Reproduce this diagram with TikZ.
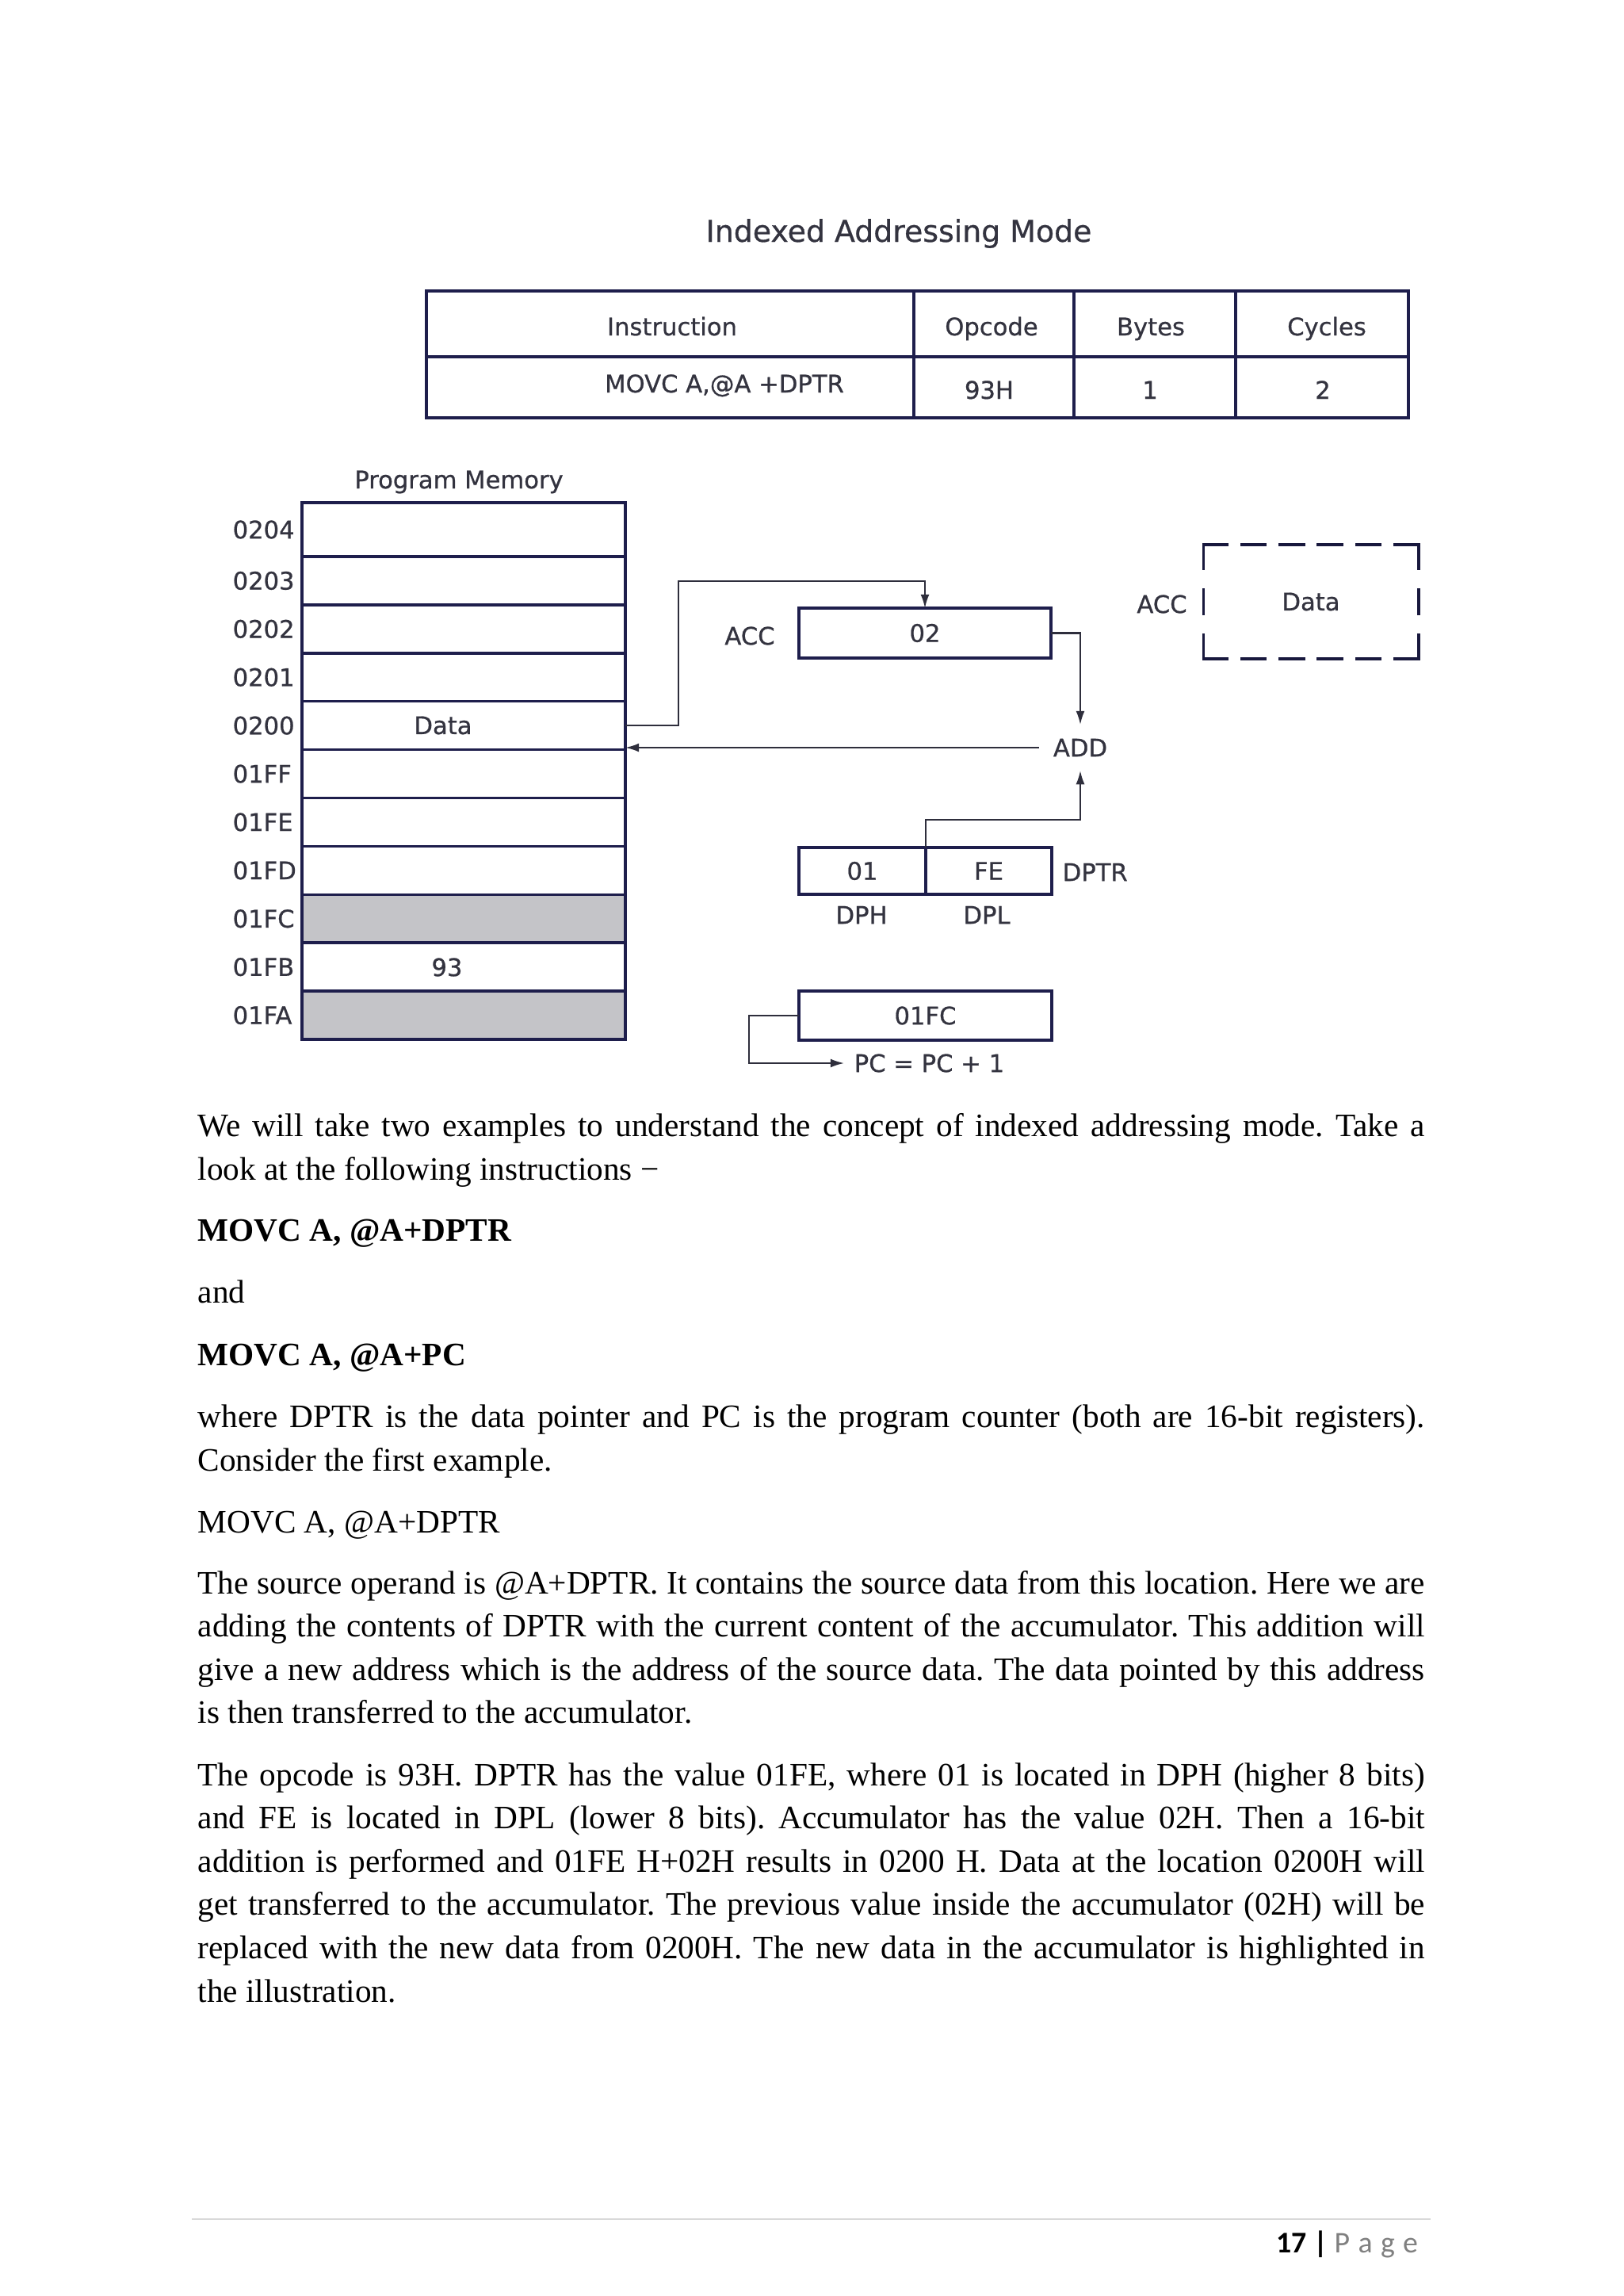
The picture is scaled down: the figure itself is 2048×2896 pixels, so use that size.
\documentclass[tikz,border=0pt]{standalone}
\usepackage{fontspec}
\setmainfont{Liberation Serif}
\newfontfamily\dvfont[FakeBold=0.7]{DejaVu Sans}
\newfontfamily\calfont{Carlito}
\usetikzlibrary{arrows.meta}
\definecolor{navy}{HTML}{1E1E4C}
\definecolor{ink}{HTML}{33333F}
\definecolor{wire}{HTML}{2E2E3C}
\definecolor{cellgray}{HTML}{C4C4C8}
\definecolor{pagegray}{HTML}{808080}
\definecolor{rulegray}{HTML}{D9D9D9}
\newlength\TW
\setlength\TW{450pt}
\newcommand\pxu{0.29066pt}
\frenchspacing
\begin{document}
\begin{tikzpicture}[x=0.29066pt,y=-0.29066pt,
  lbl/.style={font=\dvfont\fontsize{8.9}{10.5}\selectfont, text=ink, inner sep=0pt},
  cell/.style={draw=navy, line width=1pt, minimum width=408*\pxu, minimum height=60.9*\pxu, inner sep=0pt, outer sep=0pt},
  reg/.style={draw=navy, line width=1.15pt, inner sep=0pt, outer sep=0pt, font=\dvfont\fontsize{8.9}{10.5}\selectfont, text=ink},
  wire/.style={draw=wire, line width=0.6pt},
  arr/.style={wire, -{Latex[length=5pt,width=3.2pt]}},
  dashside/.style={draw=navy!80!black, line width=1.15pt, line cap=rect},
  body/.style={font=\fontsize{12}{14}\selectfont, inner sep=0pt, anchor=base west},
  addr/.style={lbl, anchor=west}]
\useasboundingbox[fill=white] (0,0) rectangle (2048,2896);

% ---------- title and table ----------
\node[lbl, font=\dvfont\fontsize{11}{13}\selectfont, anchor=base] (title) at (1134,305) {Indexed Addressing Mode};
\draw[navy, line width=1pt] (538,367) rectangle (1777,527);
\draw[navy, line width=1.3pt] (538,367) -- (1777,367);
\draw[navy, line width=1pt] (538,450) -- (1777,450);
\draw[navy, line width=1pt] (1153,367) -- (1153,527) (1355,367) -- (1355,527) (1559,367) -- (1559,527);
\node[lbl, anchor=base] (thIns) at (848,423) {Instruction};
\node[lbl, anchor=base] (thOp) at (1251,423) {Opcode};
\node[lbl, anchor=base] (thBy) at (1452,423) {Bytes};
\node[lbl, anchor=base] (thCy) at (1674,423) {Cycles};
\node[lbl, anchor=base] (tdIns) at (914,495) {MOVC A,@A +DPTR};
\node[lbl, anchor=base] (tdOp) at (1248,503) {93H};
\node[lbl, anchor=base] (tdBy) at (1451,503) {1};
\node[lbl, anchor=base] (tdCy) at (1669,503) {2};

% ---------- program memory ----------
\node[lbl, anchor=base] (pm) at (579,616) {Program Memory};
\node[cell, minimum height=68*\pxu] (r0204) at (585,668) {};
\node[cell] (r0203) at (585,732.45) {};
\node[cell] (r0202) at (585,793.35) {};
\node[cell] (r0201) at (585,854.25) {};
\node[cell] (r0200) at (585,915.15) {};
\node[cell] (r01FF) at (585,976.05) {};
\node[cell] (r01FE) at (585,1036.95) {};
\node[cell] (r01FD) at (585,1097.85) {};
\node[cell, fill=cellgray] (r01FC) at (585,1158.75) {};
\node[cell] (r01FB) at (585,1219.65) {};
\node[cell, fill=cellgray] (r01FA) at (585,1280.55) {};
\node[lbl] (memData) at (559,915) {Data};
\node[lbl] (mem93) at (564,1220) {93};
\node[addr] (a0204) at (293,668) {0204};
\node[addr] (a0203) at (293,732.45) {0203};
\node[addr] (a0202) at (293,793.35) {0202};
\node[addr] (a0201) at (293,854.25) {0201};
\node[addr] (a0200) at (293,915.15) {0200};
\node[addr] (a01FF) at (293,976.05) {01FF};
\node[addr] (a01FE) at (293,1036.95) {01FE};
\node[addr] (a01FD) at (293,1097.85) {01FD};
\node[addr] (a01FC) at (293,1158.75) {01FC};
\node[addr] (a01FB) at (293,1219.65) {01FB};
\node[addr] (a01FA) at (293,1280.55) {01FA};

% ---------- registers ----------
\node[reg, minimum width=318*\pxu, minimum height=63*\pxu] (acc) at (1167,798.5) {02};
\node[lbl] (accL) at (946,802) {ACC};
\node[lbl, inner sep=5pt] (add) at (1363,943) {ADD};
\node[reg, minimum width=160*\pxu, minimum height=59*\pxu] (dph) at (1088,1098.5) {01};
\node[reg, minimum width=159*\pxu, minimum height=59*\pxu] (dpl) at (1247.5,1098.5) {FE};
\node[lbl, anchor=west] (dptrL) at (1340,1100) {DPTR};
\node[lbl] (dphL) at (1087,1154) {DPH};
\node[lbl] (dplL) at (1245,1154) {DPL};
\node[reg, minimum width=319*\pxu, minimum height=62*\pxu] (pc) at (1167.5,1281) {01FC};
\node[lbl, anchor=west, inner xsep=3.5pt] (pcinc) at (1065,1341) {PC = PC + 1};
\node[reg, draw=none, minimum width=271*\pxu, minimum height=144*\pxu] (dacc) at (1654,759) {Data};
\draw[dashside, dash pattern=on 8.6pt off 5.44pt] (dacc.north west) -- (dacc.north east);
\draw[dashside, dash pattern=on 8.6pt off 5.44pt] (dacc.south east) -- (dacc.south west);
\draw[dashside, dash pattern=on 8.6pt off 8pt] (dacc.north east) -- (dacc.south east);
\draw[dashside, dash pattern=on 8.6pt off 8pt] (dacc.south west) -- (dacc.north west);
\node[lbl] (accR) at (1466,762) {ACC};

% ---------- connectors ----------
\draw[arr] (r0200.east) -- ++(67,0) -- ++(0,-182) -| (acc.north);
\draw[arr] (acc.east) -| (add.north);
\draw[arr] (add.west) -- (add.west -| r0200.east);
\draw[arr] (dph.north east) -- ++(0,-35) -| (add.south);
\draw[arr] (pc.west) -- ++(-63,0) |- (pcinc.west);

% ---------- body text ----------
\node[body] (t1) at (249,1433) {\makebox[\TW][s]{We will take two examples to understand the concept of indexed addressing mode. Take a}};
\node[body] (t2) at (249,1488) {look at the following instructions −};
\node[body] (t3) at (249,1565) {\textbf{MOVC A, @A+DPTR}};
\node[body] (t4) at (249,1643) {and};
\node[body] (t5) at (249,1722) {\textbf{MOVC A, @A+PC}};
\node[body] (t6) at (249,1800) {\makebox[\TW][s]{where DPTR is the data pointer and PC is the program counter (both are 16-bit registers).}};
\node[body] (t7) at (249,1855) {Consider the first example.};
\node[body] (t8) at (249,1933) {MOVC A, @A+DPTR};
\node[body] (t9) at (249,2010) {\makebox[\TW][s]{The source operand is @A+DPTR. It contains the source data from this location. Here we are}};
\node[body] (t10) at (249,2064.6) {\makebox[\TW][s]{adding the contents of DPTR with the current content of the accumulator. This addition will}};
\node[body] (t11) at (249,2119.2) {\makebox[\TW][s]{give a new address which is the address of the source data. The data pointed by this address}};
\node[body] (t12) at (249,2173.8) {is then transferred to the accumulator.};
\node[body] (t13) at (249,2252) {\makebox[\TW][s]{The opcode is 93H. DPTR has the value 01FE, where 01 is located in DPH (higher 8 bits)}};
\node[body] (t14) at (249,2306.6) {\makebox[\TW][s]{and FE is located in DPL (lower 8 bits). Accumulator has the value 02H. Then a 16-bit}};
\node[body] (t15) at (249,2361.2) {\makebox[\TW][s]{addition is performed and 01FE H+02H results in 0200 H. Data at the location 0200H will}};
\node[body] (t16) at (249,2415.8) {\makebox[\TW][s]{get transferred to the accumulator. The previous value inside the accumulator (02H) will be}};
\node[body] (t17) at (249,2470.4) {\makebox[\TW][s]{replaced with the new data from 0200H. The new data in the accumulator is highlighted in}};
\node[body] (t18) at (249,2525) {the illustration.};

% ---------- footer ----------
\draw[rulegray, line width=0.5pt] (242,2799) -- (1805,2799);
\node[inner sep=0pt, anchor=base east, font=\calfont\fontsize{11}{13}\selectfont] (pgno) at (1800,2841) {\textbf{17 |} {\color{pagegray}P\kern3pt a\kern3pt g\kern3pt e\kern3pt}};
\end{tikzpicture}
\end{document}
